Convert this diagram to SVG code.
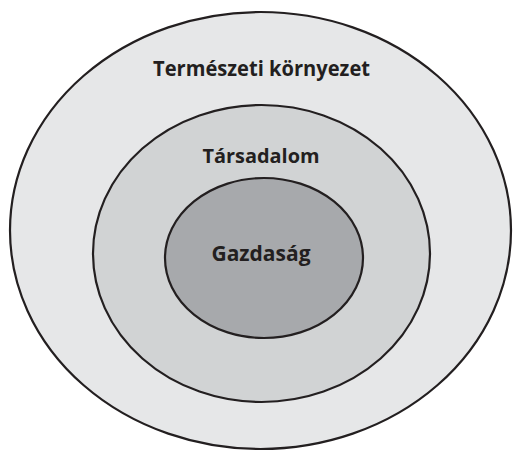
<svg xmlns="http://www.w3.org/2000/svg" width="513" height="451" viewBox="0 0 513 451">
<style>
.ring{stroke:#231f20;stroke-width:2.2}
.lbl{font-family:"Open Sans","DejaVu Sans",sans-serif;font-weight:bold;fill:#231f20;text-anchor:middle}
</style>
<rect width="513" height="451" fill="#ffffff"/>
<g id="termeszeti">
<ellipse class="ring" cx="260.5" cy="230.5" rx="250.5" ry="218.5" fill="#e6e7e8"/>
<text class="lbl" x="261.5" y="76" font-size="21.5" textLength="217" lengthAdjust="spacingAndGlyphs">Természeti környezet</text>
</g>
<g id="tarsadalom">
<ellipse class="ring" cx="261.5" cy="253.5" rx="168.5" ry="148.5" fill="#d1d3d4"/>
<text class="lbl" x="261" y="163" font-size="19.5" textLength="117" lengthAdjust="spacingAndGlyphs">Társadalom</text>
</g>
<g id="gazdasag">
<ellipse class="ring" cx="264" cy="258" rx="99" ry="80" fill="#a7a9ac"/>
<text class="lbl" x="261" y="261" font-size="21" textLength="99" lengthAdjust="spacingAndGlyphs">Gazdaság</text>
</g>
<g id="connectors"/>
</svg>
